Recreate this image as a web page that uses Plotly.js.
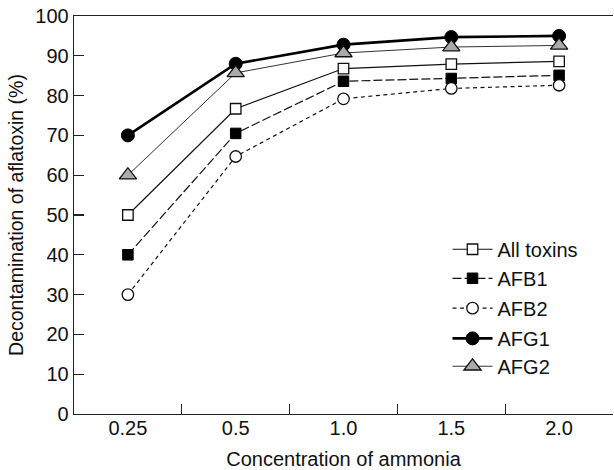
<!DOCTYPE html>
<html><head><meta charset="utf-8">
<script src="https://cdn.plot.ly/plotly-3.0.1.min.js"></script>
<style>body{margin:0;padding:0;background:#fff}#c{width:614px;height:470px}</style>
</head><body><div id="c"></div>
<script>
const categories = ["0.25", "0.5", "1.0", "1.5", "2.0"];
const seriesNames = ["All toxins", "AFB1", "AFB2", "AFG1", "AFG2"];
const allToxins = [50, 76.7, 86.8, 87.9, 88.6];
const afb1 = [40, 70.5, 83.6, 84.3, 85.1];
const afb2 = [30, 64.7, 79.2, 81.8, 82.6];
const afg1 = [70, 88.0, 92.8, 94.7, 95.0];
const afg2 = [60, 85.7, 90.7, 92.2, 92.6];

const font = "Liberation Sans, Arial, sans-serif";
const legendRowY = [0.414, 0.341, 0.266, 0.190, 0.120];

const traces = [
  {name: seriesNames[0], x: categories, y: allToxins, legend: "legend",
   line: {color: "#111", width: 1.2},
   marker: {symbol: "square", size: 10.5, color: "#fff", line: {color: "#111", width: 1.3}}},
  {name: seriesNames[1], x: categories, y: afb1, legend: "legend2",
   line: {color: "#111", width: 1.2, dash: "9px,3px"},
   marker: {symbol: "square", size: 10.5, color: "#000", line: {color: "#000", width: 1}}},
  {name: seriesNames[2], x: categories, y: afb2, legend: "legend3",
   line: {color: "#111", width: 1.2, dash: "4px,3.5px"},
   marker: {symbol: "circle", size: 11.5, color: "#fff", line: {color: "#111", width: 1.3}}},
  {name: seriesNames[3], x: categories, y: afg1, legend: "legend4",
   line: {color: "#000", width: 2.6},
   marker: {symbol: "circle", size: 13, color: "#000", line: {color: "#000", width: 1}}},
  {name: seriesNames[4], x: categories, y: afg2, legend: "legend5",
   line: {color: "#333", width: 1},
   marker: {symbol: "triangle-up", size: 15, color: "#aaa", line: {color: "#111", width: 1.3}}}
].map(t => Object.assign({type: "scatter", mode: "lines+markers"}, t));

function leg(y) {
  return {x: 0.693, y: y, xanchor: "left", yanchor: "middle", bgcolor: "rgba(0,0,0,0)",
          font: {family: font, size: 20, color: "#111"}, itemwidth: 40};
}

const layout = {
  width: 614, height: 470,
  margin: {l: 74, r: 1, t: 16, b: 56},
  paper_bgcolor: "#fff", plot_bgcolor: "#fff",
  font: {family: font, color: "#111", size: 19},
  showlegend: true,
  legend: leg(legendRowY[0]), legend2: leg(legendRowY[1]), legend3: leg(legendRowY[2]),
  legend4: leg(legendRowY[3]), legend5: leg(legendRowY[4]),
  xaxis: {type: "category", range: [-0.5, 4.5], showgrid: false, zeroline: false,
          showline: true, linecolor: "#222", linewidth: 1.3, mirror: true,
          ticks: "inside", ticklen: 10, tickcolor: "#222", tickwidth: 1.3, tickson: "boundaries",
          ticklabelstandoff: -4,
          tickfont: {family: font, size: 20, color: "#111"},
          title: {text: "Concentration of ammonia", font: {family: font, size: 20, color: "#111"}, standoff: 13}},
  yaxis: {range: [0, 100], dtick: 10, showgrid: false, zeroline: false,
          showline: true, linecolor: "#222", linewidth: 1.3,
          ticks: "inside", ticklen: 10, tickcolor: "#222", tickwidth: 1.3,
          tickfont: {family: font, size: 20, color: "#111"},
          title: {text: "Decontamination of aflatoxin (%)", font: {family: font, size: 19.5, color: "#111"}, standoff: 6}}
};
Plotly.newPlot("c", traces, layout, {displayModeBar: false, staticPlot: true});
</script></body></html>
